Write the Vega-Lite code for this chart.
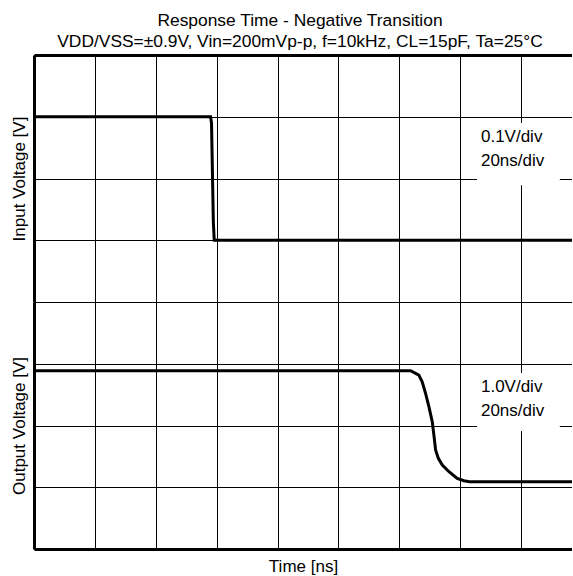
{
  "$schema": "https://vega.github.io/schema/vega-lite/v6.json",
  "background": "white",
  "padding": {"left": 10, "top": 11, "right": 0, "bottom": 2},
  "spacing": 0,
  "title": {
    "text": ["Response Time - Negative Transition", "VDD/VSS=±0.9V, Vin=200mVp-p, f=10kHz, CL=15pF, Ta=25°C"],
    "font": "Liberation Sans",
    "fontSize": 17.4,
    "fontWeight": "normal",
    "color": "black",
    "lineHeight": 21,
    "offset": 5,
    "anchor": "middle",
    "dx": 9
  },
  "config": {
    "view": {"stroke": null},
    "axis": {
      "titleFont": "Liberation Sans",
      "titleFontSize": 17,
      "titleFontWeight": "normal",
      "titleColor": "black",
      "labels": false,
      "ticks": false,
      "grid": true,
      "gridColor": "black",
      "gridWidth": 1,
      "gridOpacity": 1,
      "domain": true,
      "domainColor": "black",
      "domainWidth": 3
    }
  },
  "datasets": {
    "input": [
      {"t": 0, "v": 7.0},
      {"t": 58.0, "v": 7.0},
      {"t": 58.3, "v": 6.9},
      {"t": 58.9, "v": 5.3},
      {"t": 59.2, "v": 5.0},
      {"t": 176.7, "v": 5.0}
    ],
    "output": [
      {"t": 0, "v": 2.887},
      {"t": 123.7, "v": 2.887},
      {"t": 126.4, "v": 2.817},
      {"t": 127.5, "v": 2.709},
      {"t": 128.6, "v": 2.521},
      {"t": 129.7, "v": 2.305},
      {"t": 130.8, "v": 2.062},
      {"t": 131.4, "v": 1.819},
      {"t": 131.9, "v": 1.603},
      {"t": 132.8, "v": 1.468},
      {"t": 134.1, "v": 1.36},
      {"t": 136.3, "v": 1.252},
      {"t": 139.0, "v": 1.144},
      {"t": 141.2, "v": 1.105},
      {"t": 143.0, "v": 1.09},
      {"t": 176.7, "v": 1.09}
    ],
    "boxIn": [{"t": 145.5, "t2": 172.7, "v": 6.9, "v2": 5.89}],
    "boxOut": [{"t": 145.5, "t2": 172.7, "v": 2.85, "v2": 1.91}],
    "labIn": [
      {"t": 146.8, "v": 6.67, "label": "0.1V/div"},
      {"t": 146.8, "v": 6.28, "label": "20ns/div"}
    ],
    "labOut": [
      {"t": 146.8, "v": 2.62, "label": "1.0V/div"},
      {"t": 146.8, "v": 2.235, "label": "20ns/div"}
    ]
  },
  "vconcat": [
    {
      "width": 538,
      "height": 247,
      "encoding": {
        "x": {
          "field": "t",
          "type": "quantitative",
          "scale": {"domain": [0, 176.7], "nice": false, "zero": false},
          "axis": {"orient": "top", "values": [0, 20, 40, 60, 80, 100, 120, 140, 160], "title": null}
        },
        "y": {
          "field": "v",
          "type": "quantitative",
          "scale": {"domain": [4, 8], "nice": false, "zero": false},
          "axis": {"orient": "left", "values": [4, 5, 6, 7, 8], "title": "Input Voltage [V]", "titlePadding": 6}
        }
      },
      "layer": [
        {
          "data": {"name": "boxIn"},
          "mark": {"type": "rect", "fill": "white", "strokeWidth": 0},
          "encoding": {"x2": {"field": "t2"}, "y2": {"field": "v2"}}
        },
        {
          "data": {"name": "input"},
          "mark": {"type": "line", "color": "black", "strokeWidth": 3, "clip": true}
        },
        {
          "data": {"name": "labIn"},
          "mark": {"type": "text", "align": "left", "baseline": "middle", "font": "Liberation Sans", "fontSize": 17, "color": "black"},
          "encoding": {"text": {"field": "label"}}
        }
      ]
    },
    {
      "width": 538,
      "height": 247,
      "encoding": {
        "x": {
          "field": "t",
          "type": "quantitative",
          "scale": {"domain": [0, 176.7], "nice": false, "zero": false},
          "axis": {"orient": "bottom", "values": [0, 20, 40, 60, 80, 100, 120, 140, 160], "title": "Time [ns]", "titlePadding": 9}
        },
        "y": {
          "field": "v",
          "type": "quantitative",
          "scale": {"domain": [0, 4], "nice": false, "zero": false},
          "axis": {"orient": "left", "values": [0, 1, 2, 3, 4], "title": "Output Voltage [V]", "titlePadding": 6}
        }
      },
      "layer": [
        {
          "data": {"name": "boxOut"},
          "mark": {"type": "rect", "fill": "white", "strokeWidth": 0},
          "encoding": {"x2": {"field": "t2"}, "y2": {"field": "v2"}}
        },
        {
          "data": {"name": "output"},
          "mark": {"type": "line", "color": "black", "strokeWidth": 3, "clip": true}
        },
        {
          "data": {"name": "labOut"},
          "mark": {"type": "text", "align": "left", "baseline": "middle", "font": "Liberation Sans", "fontSize": 17, "color": "black"},
          "encoding": {"text": {"field": "label"}}
        }
      ]
    }
  ]
}
